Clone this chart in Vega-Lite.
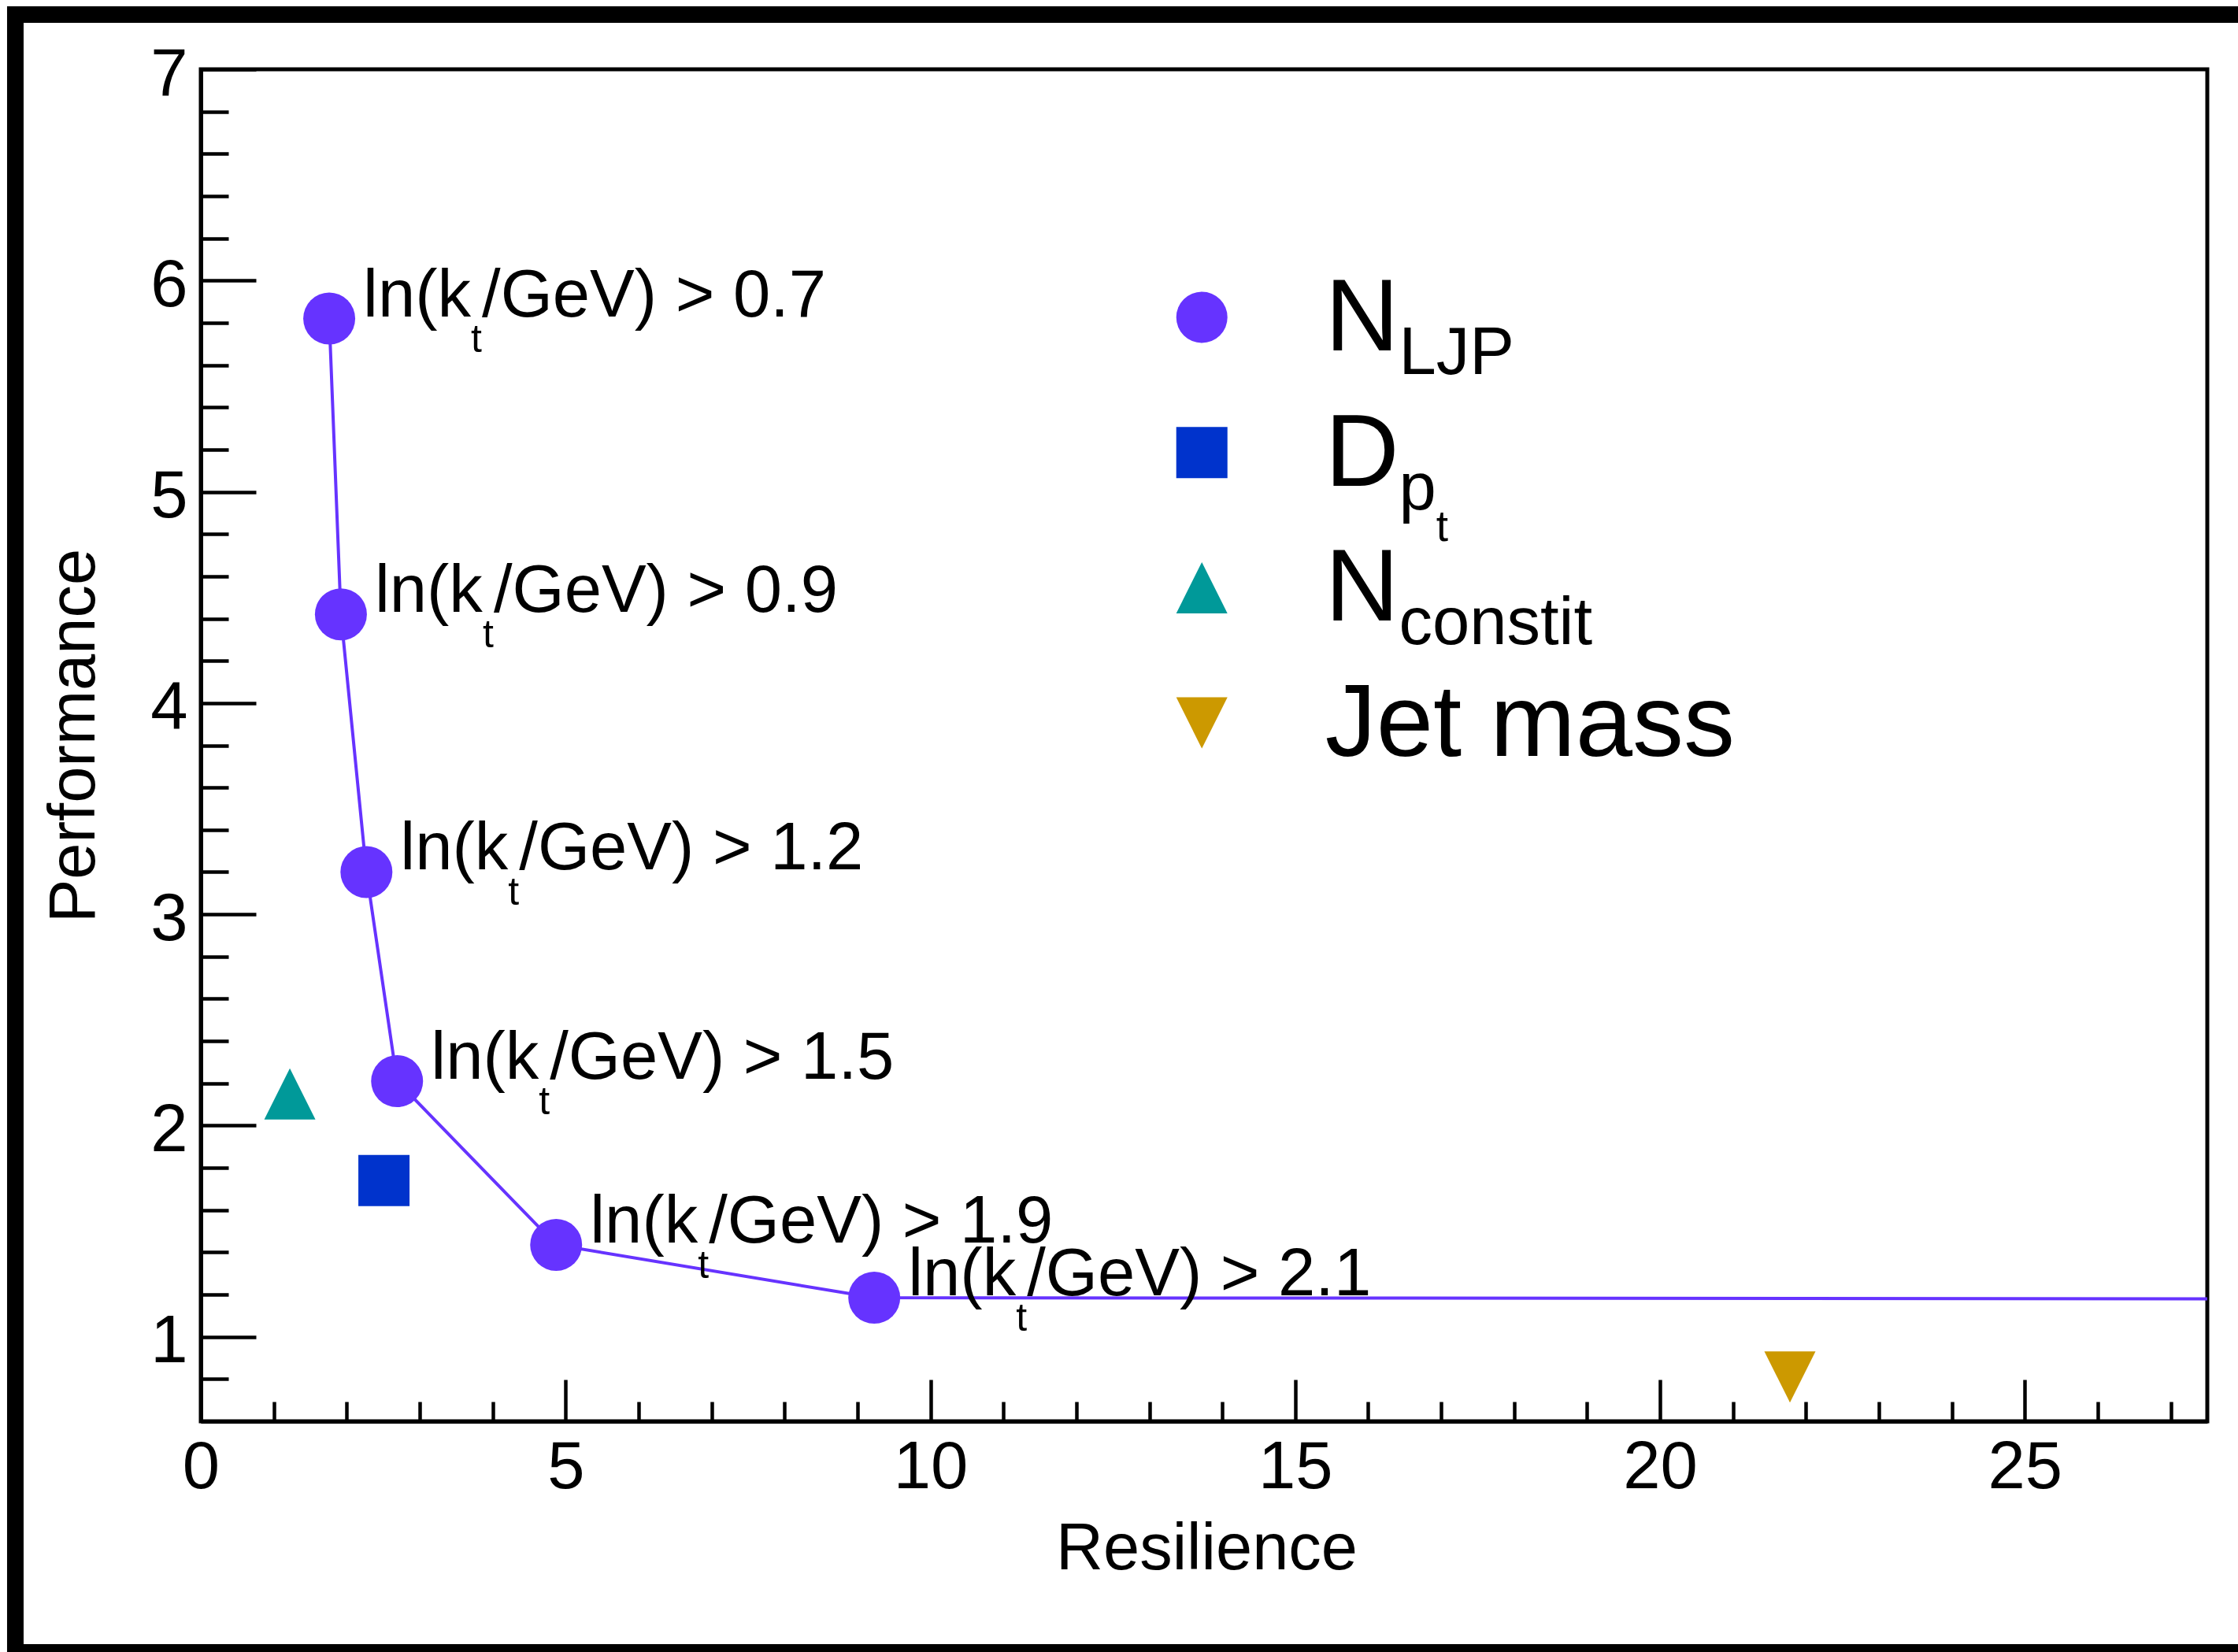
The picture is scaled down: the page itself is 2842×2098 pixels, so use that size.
{
  "$schema": "https://vega.github.io/schema/vega-lite/v6.json",
  "width": 2548,
  "height": 1717,
  "autosize": {"type": "none"},
  "padding": {"left": 255, "top": 88, "right": 39, "bottom": 293},
  "background": "white",
  "config": {
    "view": {"stroke": "black", "strokeWidth": 5, "fill": "white"},
    "font": "Liberation Sans",
    "text": {"font": "Liberation Sans", "color": "black"},
    "axis": {
      "grid": false,
      "labelFont": "Liberation Sans",
      "titleFont": "Liberation Sans",
      "labelColor": "black",
      "titleColor": "black",
      "domainColor": "black",
      "tickColor": "black",
      "labelFontSize": 85,
      "titleFontSize": 83,
      "titleFontWeight": "normal",
      "domainWidth": 5,
      "tickWidth": 4.5
    }
  },
  "datasets": {
    "nljp": [
      {"resilience": 1.76, "performance": 5.82, "tail": "/GeV) > 0.7"},
      {"resilience": 1.92, "performance": 4.42, "tail": "/GeV) > 0.9"},
      {"resilience": 2.27, "performance": 3.2, "tail": "/GeV) > 1.2"},
      {"resilience": 2.69, "performance": 2.21, "tail": "/GeV) > 1.5"},
      {"resilience": 4.87, "performance": 1.435, "tail": "/GeV) > 1.9"},
      {"resilience": 9.23, "performance": 1.185, "tail": "/GeV) > 2.1"}
    ],
    "front": [
      {"resilience": 1.76, "performance": 5.82},
      {"resilience": 1.92, "performance": 4.42},
      {"resilience": 2.27, "performance": 3.2},
      {"resilience": 2.69, "performance": 2.21},
      {"resilience": 4.87, "performance": 1.435},
      {"resilience": 9.23, "performance": 1.185},
      {"resilience": 27.5, "performance": 1.18}
    ],
    "others": [
      {"series": "D_pt", "resilience": 2.51, "performance": 1.74},
      {"series": "N_constit", "resilience": 1.22, "performance": 2.15},
      {"series": "Jet mass", "resilience": 21.78, "performance": 0.81}
    ],
    "legend": [
      {"series": "N_LJP", "rank": 1, "main": "N", "sub": "LJP", "subsub": ""},
      {"series": "D_pt", "rank": 2, "main": "D", "sub": "p", "subsub": "t"},
      {"series": "N_constit", "rank": 3, "main": "N", "sub": "constit", "subsub": ""},
      {"series": "Jet mass", "rank": 4, "main": "Jet mass", "sub": "", "subsub": ""}
    ]
  },
  "layer": [
    {
      "layer": [
        {
          "data": {"values": [{}]},
          "mark": {"type": "rect", "fillOpacity": 0, "stroke": "black", "strokeWidth": 21, "clip": false},
          "encoding": {
            "x": {"datum": -2.542, "type": "quantitative", "axis": null},
            "x2": {"datum": 28.22},
            "y": {"datum": 7.259, "type": "quantitative", "axis": null},
            "y2": {"datum": -0.494}
          }
        },
        {
          "data": {"name": "front"},
          "mark": {"type": "line", "color": "#6633FF", "strokeWidth": 4, "clip": true},
          "encoding": {
            "x": {
              "field": "resilience", "type": "quantitative",
              "scale": {"domain": [0, 27.5], "nice": false, "zero": false},
              "axis": {
                "orient": "bottom",
                "title": "Resilience", "values": [0, 5, 10, 15, 20, 25], "ticks": false,
                "labelPadding": 17, "labelFlush": false, "labelOverlap": false,
                "titleX": 1277, "titleY": 187, "titleBaseline": "alphabetic", "titleAlign": "center", "titleAngle": 0
              }
            },
            "y": {
              "field": "performance", "type": "quantitative",
              "scale": {"domain": [0.6, 7], "nice": false, "zero": false},
              "axis": {
                "orient": "left",
                "title": "Performance", "values": [1, 2, 3, 4, 5, 6, 7], "ticks": false,
                "labelPadding": 17, "labelOffset": 6, "labelFlush": false, "labelOverlap": false,
                "titleX": -136, "titleY": 846, "titleAngle": -90, "titleBaseline": "alphabetic", "titleAlign": "center"
              }
            }
          }
        },
        {
          "data": {"name": "nljp"},
          "mark": {"type": "point", "shape": "circle", "filled": true, "color": "#6633FF", "size": 4356, "opacity": 1},
          "encoding": {
            "x": {
              "field": "resilience", "type": "quantitative",
              "axis": {"orient": "bottom", "values": [0, 5, 10, 15, 20, 25], "labels": false, "domain": false, "title": null, "tickSize": -53}
            },
            "y": {
              "field": "performance", "type": "quantitative",
              "axis": {"orient": "left", "values": [1, 2, 3, 4, 5, 6, 7], "labels": false, "domain": false, "title": null, "tickSize": -70}
            }
          }
        },
        {
          "data": {"name": "others"},
          "mark": {"type": "point", "filled": true, "size": 4225, "opacity": 1},
          "encoding": {
            "x": {
              "field": "resilience", "type": "quantitative",
              "axis": {"orient": "bottom", "values": [1, 2, 3, 4, 6, 7, 8, 9, 11, 12, 13, 14, 16, 17, 18, 19, 21, 22, 23, 24, 26, 27], "labels": false, "domain": false, "title": null, "tickSize": -25}
            },
            "y": {
              "field": "performance", "type": "quantitative",
              "axis": {"orient": "left", "values": [0.6, 0.8, 1.2, 1.4, 1.6, 1.8, 2.2, 2.4, 2.6, 2.8, 3.2, 3.4, 3.6, 3.8, 4.2, 4.4, 4.6, 4.8, 5.2, 5.4, 5.6, 5.8, 6.2, 6.4, 6.6, 6.8], "labels": false, "domain": false, "title": null, "tickSize": -35}
            },
            "color": {
              "field": "series", "type": "nominal", "legend": null,
              "scale": {"domain": ["N_LJP", "D_pt", "N_constit", "Jet mass"], "range": ["#6633FF", "#0033CC", "#009999", "#CC9900"]}
            },
            "shape": {
              "field": "series", "type": "nominal", "legend": null,
              "scale": {"domain": ["N_LJP", "D_pt", "N_constit", "Jet mass"], "range": ["circle", "square", "M0,-1L1,1L-1,1Z", "M-1,-1L1,-1L0,1Z"]}
            }
          }
        },
        {
          "data": {"name": "nljp"},
          "mark": {"type": "text", "text": "ln(k", "align": "left", "baseline": "alphabetic", "dx": 43, "dy": -3, "fontSize": 85},
          "encoding": {
            "x": {"field": "resilience", "type": "quantitative", "axis": null},
            "y": {"field": "performance", "type": "quantitative", "axis": null}
          }
        },
        {
          "data": {"name": "nljp"},
          "mark": {"type": "text", "text": "t", "align": "left", "baseline": "alphabetic", "dx": 180, "dy": 42, "fontSize": 50},
          "encoding": {
            "x": {"field": "resilience", "type": "quantitative", "axis": null},
            "y": {"field": "performance", "type": "quantitative", "axis": null}
          }
        },
        {
          "data": {"name": "nljp"},
          "mark": {"type": "text", "align": "left", "baseline": "alphabetic", "dx": 194, "dy": -3, "fontSize": 85},
          "encoding": {
            "x": {"field": "resilience", "type": "quantitative", "axis": null},
            "y": {"field": "performance", "type": "quantitative", "axis": null},
            "text": {"field": "tail", "type": "nominal"}
          }
        }
      ],
      "resolve": {"axis": {"x": "independent", "y": "independent"}}
    },
    {
      "data": {"name": "legend"},
      "encoding": {
        "y": {
          "field": "rank", "type": "quantitative",
          "scale": {"domain": [-0.8346, 9.1654], "reverse": true, "nice": false, "zero": false},
          "axis": null
        }
      },
      "layer": [
        {
          "mark": {"type": "point", "filled": true, "size": 4225, "opacity": 1},
          "encoding": {
            "x": {"datum": 13.72, "type": "quantitative", "axis": null},
            "color": {"field": "series", "type": "nominal", "legend": null},
            "shape": {"field": "series", "type": "nominal", "legend": null}
          }
        },
        {
          "mark": {"type": "text", "align": "left", "baseline": "alphabetic", "dy": 42, "fontSize": 130},
          "encoding": {
            "x": {"datum": 15.41, "type": "quantitative", "axis": null},
            "text": {"field": "main", "type": "nominal"}
          }
        },
        {
          "mark": {"type": "text", "align": "left", "baseline": "alphabetic", "dy": 72, "fontSize": 85},
          "encoding": {
            "x": {"datum": 16.42, "type": "quantitative", "axis": null},
            "text": {"field": "sub", "type": "nominal"}
          }
        },
        {
          "mark": {"type": "text", "align": "left", "baseline": "alphabetic", "dy": 112, "fontSize": 55},
          "encoding": {
            "x": {"datum": 16.93, "type": "quantitative", "axis": null},
            "text": {"field": "subsub", "type": "nominal"}
          }
        }
      ],
      "resolve": {"axis": {"x": "independent", "y": "independent"}}
    }
  ],
  "resolve": {"scale": {"y": "independent"}, "axis": {"x": "independent", "y": "independent"}}
}
